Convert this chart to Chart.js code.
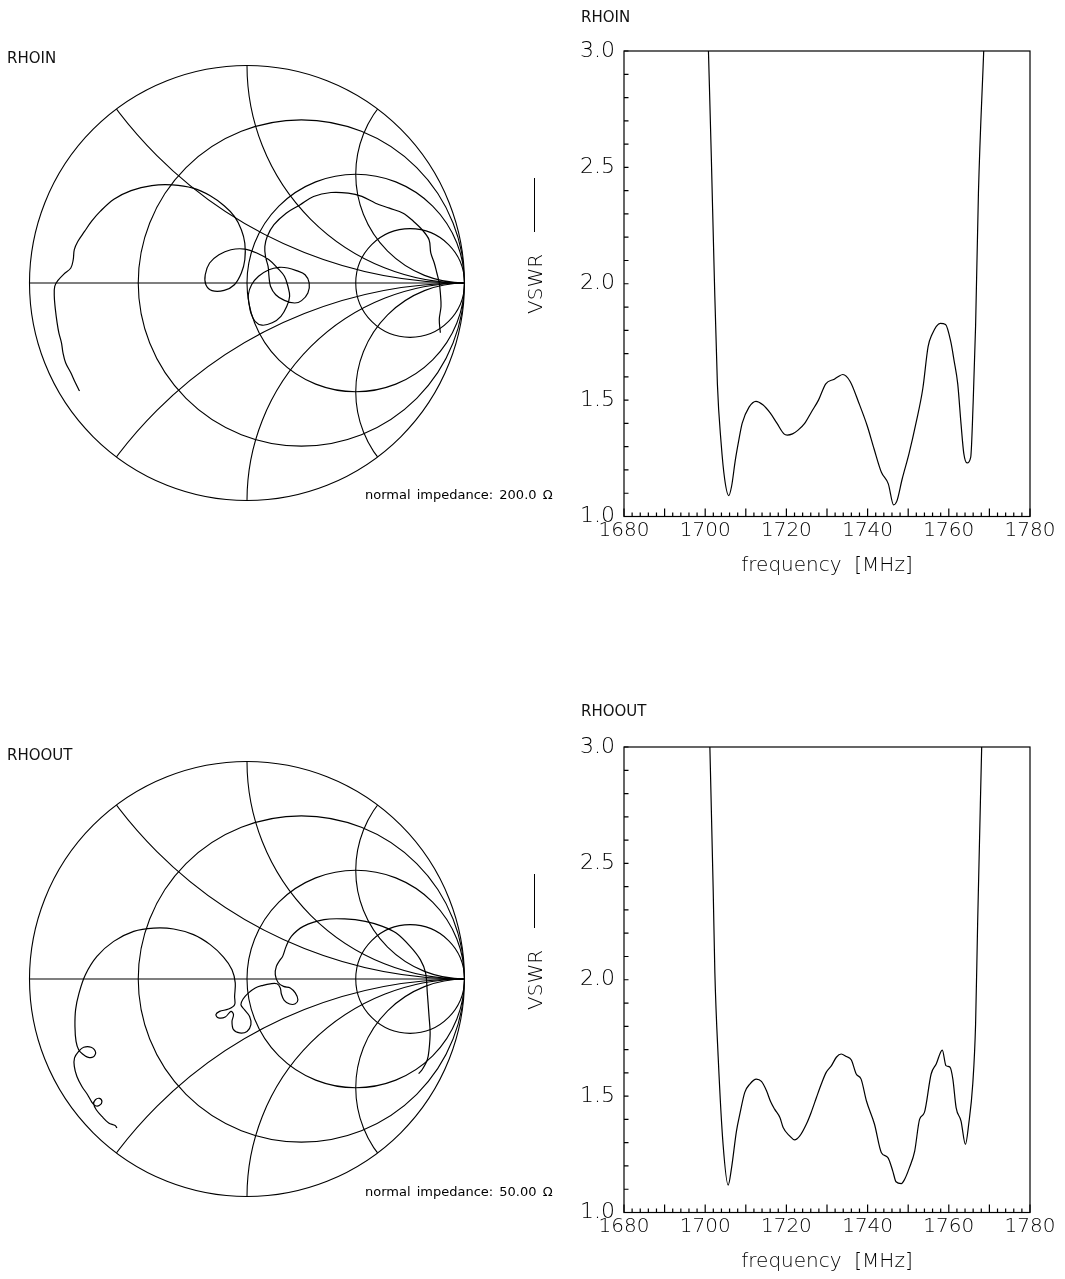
<!DOCTYPE html>
<html>
<head>
<meta charset="utf-8">
<script src="https://cdn.jsdelivr.net/npm/chart.js@4.4.1/dist/chart.umd.min.js"></script>
<style>
  html, body { margin: 0; padding: 0; background: #fff; }
  body { width: 1065px; height: 1279px; position: relative; overflow: hidden; font-family: 'DejaVu Sans', sans-serif; color: #000; }
  canvas { position: absolute; }
  .lbl { position: absolute; white-space: nowrap; }
  .small { font-size: 15px; line-height: 15px; color: #111; }
  .imp { font-size: 13px; line-height: 13px; word-spacing: 2px; }
  .big { font-size: 20px; line-height: 20px; font-weight: 200; }
  .axis-title { width: 400px; text-align: center; }
  .vswr { width: 60px; height: 20px; text-align: center; transform: rotate(-90deg); }
  .dash { position: absolute; width: 1.3px; height: 54px; background: #000; }
</style>
</head>
<body>
<canvas id="smithIn" width="444" height="444" style="left:25px;top:61px"></canvas>
<canvas id="smithOut" width="444" height="444" style="left:25px;top:757px"></canvas>
<canvas id="vswrIn" width="545" height="600" style="left:520px;top:0px"></canvas>
<canvas id="vswrOut" width="545" height="600" style="left:520px;top:696px"></canvas>

<div class="lbl small" style="left:7px;top:51px">RHOIN</div>
<div class="lbl small" style="left:581px;top:10px">RHOIN</div>
<div class="lbl imp" style="left:365px;top:488px">normal impedance: 200.0 Ω</div>
<div class="lbl big vswr" style="left:505px;top:274px">VSWR</div>
<div class="dash" style="left:534px;top:178px"></div>
<div class="lbl big axis-title" style="left:627px;top:554px">frequency&nbsp;&nbsp;[MHz]</div>

<div class="lbl small" style="left:7px;top:748px">RHOOUT</div>
<div class="lbl small" style="left:581px;top:704px">RHOOUT</div>
<div class="lbl imp" style="left:365px;top:1185px">normal impedance: 50.00 Ω</div>
<div class="lbl big vswr" style="left:505px;top:970px">VSWR</div>
<div class="dash" style="left:534px;top:874px"></div>
<div class="lbl big axis-title" style="left:627px;top:1250px">frequency&nbsp;&nbsp;[MHz]</div>

<script>
// axis ranges and Smith grid
const FREQ_MIN = 1680, FREQ_MAX = 1780, FREQ_STEP = 20;
const VSWR_MIN = 1, VSWR_MAX = 3, VSWR_STEP = 0.5;
const RES_CIRCLES = [1 / 3, 1, 3];
const REACT_ARCS = [0.5, 1, 2];

// input match, VSWR vs frequency
const FREQ_IN = [1700.8, 1701.5, 1702.2, 1703.0, 1703.9, 1704.8, 1705.8, 1706.5, 1707.4, 1708.3, 1709.1,
  1710.8, 1712.5, 1714.2, 1716.0, 1717.7, 1719.4, 1720.2, 1721.5, 1722.8, 1724.5, 1726.2, 1727.9,
  1729.7, 1731.8, 1732.7, 1733.9, 1735.7, 1737.8, 1739.9, 1741.6, 1743.4, 1745.1, 1746.4, 1747.2,
  1748.5, 1750.2, 1751.9, 1753.6, 1754.9, 1755.8, 1757.9, 1759.2, 1760.5, 1761.3, 1762.2, 1763.0,
  1763.7, 1764.5, 1765.4, 1766.0, 1766.6, 1767.3, 1768.6];
const VSWR_IN = [3.0, 2.55, 2.06, 1.57, 1.32, 1.16, 1.09, 1.13, 1.24, 1.33, 1.40,
  1.47, 1.495, 1.48, 1.445, 1.40, 1.355, 1.35, 1.355, 1.37, 1.40, 1.45, 1.50,
  1.57, 1.59, 1.60, 1.61, 1.58, 1.49, 1.39, 1.29, 1.19, 1.14, 1.05, 1.066,
  1.16, 1.27, 1.40, 1.55, 1.73, 1.78, 1.83, 1.825, 1.75, 1.67, 1.57, 1.40,
  1.27, 1.23, 1.255, 1.49, 1.82, 2.39, 3.0];

// output match, VSWR vs frequency
const FREQ_OUT = [1701.15, 1701.97, 1702.38, 1703.2, 1704.4, 1705.66, 1706.5, 1707.7, 1708.5, 1709.75,
  1711.0, 1712.6, 1713.85, 1715.1, 1716.1, 1717.1, 1718.4, 1719.2, 1720.8, 1722.0, 1723.3, 1724.9,
  1726.1, 1727.4, 1728.6, 1729.8, 1731.1, 1732.3, 1733.5, 1734.75, 1736.0, 1737.2, 1738.4, 1739.7,
  1741.7, 1743.4, 1745.0, 1746.2, 1747.0, 1748.3, 1749.1, 1750.3, 1751.6, 1752.8, 1754.0, 1755.65,
  1756.9, 1758.4, 1759.3, 1760.3, 1761.0, 1761.8, 1763.0, 1764.1, 1764.9, 1765.9, 1766.6, 1767.1, 1768.1];
const VSWR_OUT = [3.0, 2.385, 2.03, 1.667, 1.293, 1.118, 1.193, 1.35, 1.42, 1.516,
  1.552, 1.573, 1.563, 1.523, 1.477, 1.444, 1.408, 1.365, 1.329, 1.312, 1.329, 1.379,
  1.43, 1.494, 1.552, 1.602, 1.631, 1.667, 1.681, 1.67, 1.655, 1.595, 1.573, 1.48,
  1.379, 1.257, 1.236, 1.178, 1.132, 1.124, 1.142, 1.193, 1.264, 1.40, 1.43, 1.595,
  1.638, 1.698, 1.631, 1.624, 1.573, 1.451, 1.394, 1.293, 1.379, 1.552, 1.81, 2.24, 3.0];

// reflection coefficient RHOIN (real / imaginary)
const RHOIN_RE = [-0.770, -0.789, -0.810, -0.834, -0.846, -0.853, -0.865, -0.873, -0.881, -0.886,
  -0.884, -0.869, -0.842, -0.810, -0.799, -0.794, -0.778, -0.747, -0.715, -0.675,
  -0.612, -0.533, -0.438, -0.343, -0.248, -0.169, -0.105, -0.058, -0.026, -0.010,
  -0.010, -0.026, -0.058, -0.105, -0.161, -0.189, -0.192, -0.172, -0.129, -0.074,
  -0.010, 0.045, 0.101, 0.140, 0.172, 0.188, 0.196, 0.183, 0.156, 0.116,
  0.069, 0.037, 0.018, 0.009, 0.006, 0.021, 0.053, 0.101, 0.148, 0.188,
  0.227, 0.267, 0.286, 0.280, 0.251, 0.219, 0.172, 0.132, 0.108, 0.101,
  0.097, 0.085, 0.082, 0.093, 0.124, 0.180, 0.243, 0.306, 0.386, 0.465,
  0.528, 0.591, 0.655, 0.718, 0.766, 0.805, 0.837, 0.845, 0.861, 0.873,
  0.884, 0.889, 0.892, 0.884, 0.889];
const RHOIN_IM = [-0.497, -0.459, -0.413, -0.367, -0.321, -0.275, -0.229, -0.183, -0.122, -0.061,
  -0.015, 0.012, 0.041, 0.069, 0.107, 0.153, 0.191, 0.237, 0.283, 0.329,
  0.385, 0.425, 0.448, 0.451, 0.436, 0.401, 0.355, 0.306, 0.245, 0.183,
  0.107, 0.046, -0.008, -0.034, -0.035, -0.008, 0.038, 0.092, 0.130, 0.153,
  0.156, 0.138, 0.107, 0.069, 0.031, -0.015, -0.061, -0.107, -0.153, -0.183,
  -0.194, -0.176, -0.138, -0.092, -0.054, -0.008, 0.031, 0.061, 0.072, 0.069,
  0.057, 0.038, 0.000, -0.046, -0.081, -0.092, -0.080, -0.054, -0.015, 0.031,
  0.076, 0.122, 0.168, 0.214, 0.268, 0.321, 0.359, 0.398, 0.416, 0.413,
  0.398, 0.367, 0.344, 0.321, 0.283, 0.245, 0.199, 0.138, 0.092, 0.046,
  0.000, -0.046, -0.107, -0.168, -0.229];

// reflection coefficient RHOOUT (real / imaginary)
const RHOOUT_RE = [-0.598, -0.606, -0.636, -0.667, -0.693, -0.705, -0.697, -0.678, -0.667, -0.678,
  -0.697, -0.713, -0.733, -0.759, -0.782, -0.794, -0.793, -0.774, -0.751, -0.717,
  -0.696, -0.708, -0.733, -0.756, -0.774, -0.786, -0.791, -0.788, -0.772, -0.743,
  -0.690, -0.613, -0.521, -0.429, -0.337, -0.246, -0.169, -0.108, -0.069, -0.054,
  -0.057, -0.057, -0.085, -0.126, -0.143, -0.131, -0.100, -0.074, -0.062, -0.069,
  -0.062, -0.034, 0.000, 0.018, 0.012, -0.012, -0.028, -0.018, 0.007, 0.038,
  0.074, 0.107, 0.138, 0.153, 0.158, 0.171, 0.196, 0.222, 0.234, 0.222,
  0.199, 0.168, 0.143, 0.130, 0.135, 0.153, 0.164, 0.180, 0.204, 0.259,
  0.354, 0.449, 0.544, 0.623, 0.686, 0.750, 0.797, 0.821, 0.829, 0.837,
  0.842, 0.837, 0.829, 0.805, 0.789];
const RHOOUT_IM = [-0.685, -0.674, -0.662, -0.632, -0.601, -0.575, -0.555, -0.549, -0.564, -0.581,
  -0.583, -0.567, -0.532, -0.494, -0.448, -0.402, -0.363, -0.333, -0.314, -0.314,
  -0.337, -0.359, -0.359, -0.345, -0.325, -0.287, -0.218, -0.141, -0.064, 0.020,
  0.104, 0.173, 0.219, 0.234, 0.230, 0.204, 0.158, 0.101, 0.043, -0.018,
  -0.080, -0.118, -0.138, -0.149, -0.164, -0.179, -0.175, -0.149, -0.164, -0.195,
  -0.233, -0.248, -0.241, -0.210, -0.172, -0.141, -0.118, -0.092, -0.064, -0.041,
  -0.029, -0.022, -0.022, -0.041, -0.069, -0.098, -0.115, -0.114, -0.095, -0.064,
  -0.041, -0.034, -0.016, 0.020, 0.058, 0.089, 0.104, 0.150, 0.196, 0.242,
  0.273, 0.276, 0.265, 0.242, 0.211, 0.150, 0.089, 0.028, -0.064, -0.172,
  -0.248, -0.325, -0.371, -0.417, -0.435];

const SMITH_LIM = 222 / 217.5;
const X_TICK_FONT = { family: "'DejaVu Sans', sans-serif", size: 20, weight: 200 };
const Y_TICK_FONT = { family: "'DejaVu Sans', sans-serif", size: 22, weight: 200 };

// Smith grid: outer circle, real axis, constant-r circles, constant-x arcs
const smithGrid = {
  id: 'smithGrid',
  beforeDatasetsDraw(chart) {
    const { ctx, scales: { x, y } } = chart;
    const unit = x.getPixelForValue(1) - x.getPixelForValue(0);
    const cx = x.getPixelForValue(0), cy = y.getPixelForValue(0);
    ctx.save();
    ctx.strokeStyle = '#000';
    ctx.lineWidth = 1.1;
    ctx.beginPath();
    ctx.arc(cx, cy, unit, 0, Math.PI * 2);
    ctx.stroke();
    ctx.clip();
    ctx.beginPath();
    ctx.moveTo(x.getPixelForValue(-1), cy);
    ctx.lineTo(x.getPixelForValue(1), cy);
    ctx.stroke();
    RES_CIRCLES.forEach((r) => {
      ctx.beginPath();
      ctx.arc(x.getPixelForValue(r / (1 + r)), cy, unit / (1 + r), 0, Math.PI * 2);
      ctx.stroke();
    });
    REACT_ARCS.forEach((xr) => {
      [xr, -xr].forEach((v) => {
        ctx.beginPath();
        ctx.arc(x.getPixelForValue(1), y.getPixelForValue(1 / v), unit / Math.abs(v), 0, Math.PI * 2);
        ctx.stroke();
      });
    });
    ctx.restore();
  }
};

// box plus inward ticks on the VSWR plots
const vswrFrame = {
  id: 'vswrFrame',
  afterDraw(chart) {
    const { ctx, chartArea: a, scales: { x, y } } = chart;
    ctx.save();
    ctx.strokeStyle = '#000';
    ctx.lineWidth = 1.2;
    ctx.strokeRect(a.left, a.top, a.right - a.left, a.bottom - a.top);
    ctx.beginPath();
    for (let f = FREQ_MIN; f <= FREQ_MAX; f += 2) {
      const px = x.getPixelForValue(f);
      const len = f % 10 === 0 ? 8 : 4;
      ctx.moveTo(px, a.bottom);
      ctx.lineTo(px, a.bottom - len);
    }
    for (let i = 0; i <= 20; i++) {
      const py = y.getPixelForValue(VSWR_MIN + i * 0.1);
      ctx.moveTo(a.left, py);
      ctx.lineTo(a.left + 4.5, py);
    }
    ctx.stroke();
    ctx.restore();
  }
};

function smithChart(id, re, im) {
  return new Chart(document.getElementById(id), {
    type: 'line',
    data: {
      datasets: [{
        data: re.map((r, i) => ({ x: r, y: im[i] })),
        borderColor: '#000',
        borderWidth: 1.2,
        pointRadius: 0,
        tension: 0.35,
        fill: false
      }]
    },
    options: {
      responsive: false,
      animation: false,
      events: [],
      layout: { padding: 0 },
      plugins: { legend: { display: false }, tooltip: { enabled: false } },
      scales: {
        x: { type: 'linear', display: false, min: -SMITH_LIM, max: SMITH_LIM },
        y: { type: 'linear', display: false, min: -SMITH_LIM, max: SMITH_LIM }
      }
    },
    plugins: [smithGrid]
  });
}

function vswrChart(id, freq, vswr) {
  return new Chart(document.getElementById(id), {
    type: 'line',
    data: {
      datasets: [{
        data: freq.map((f, i) => ({ x: f, y: vswr[i] })),
        borderColor: '#000',
        borderWidth: 1.2,
        pointRadius: 0,
        cubicInterpolationMode: 'monotone',
        fill: false
      }]
    },
    options: {
      responsive: false,
      animation: false,
      events: [],
      layout: { padding: { left: 0, right: 35, top: 51, bottom: 0 } },
      plugins: { legend: { display: false }, tooltip: { enabled: false } },
      scales: {
        x: {
          type: 'linear', min: FREQ_MIN, max: FREQ_MAX,
          grid: { display: false, drawTicks: false }, border: { display: false },
          ticks: { stepSize: FREQ_STEP, padding: 2, color: '#000', font: X_TICK_FONT, maxRotation: 0, autoSkip: false, callback: (v) => String(v) },
          afterFit: (s) => { s.height = 83.5; s.paddingLeft = 0; s.paddingRight = 0; }
        },
        y: {
          type: 'linear', min: VSWR_MIN, max: VSWR_MAX,
          grid: { display: false, drawTicks: false }, border: { display: false },
          ticks: { stepSize: VSWR_STEP, padding: 9, color: '#000', font: Y_TICK_FONT, callback: (v) => v.toFixed(1) },
          afterFit: (s) => { s.width = 104; s.paddingTop = 0; s.paddingBottom = 0; }
        }
      }
    },
    plugins: [vswrFrame]
  });
}

smithChart('smithIn', RHOIN_RE, RHOIN_IM);
smithChart('smithOut', RHOOUT_RE, RHOOUT_IM);
vswrChart('vswrIn', FREQ_IN, VSWR_IN);
vswrChart('vswrOut', FREQ_OUT, VSWR_OUT);
</script>
</body>
</html>
